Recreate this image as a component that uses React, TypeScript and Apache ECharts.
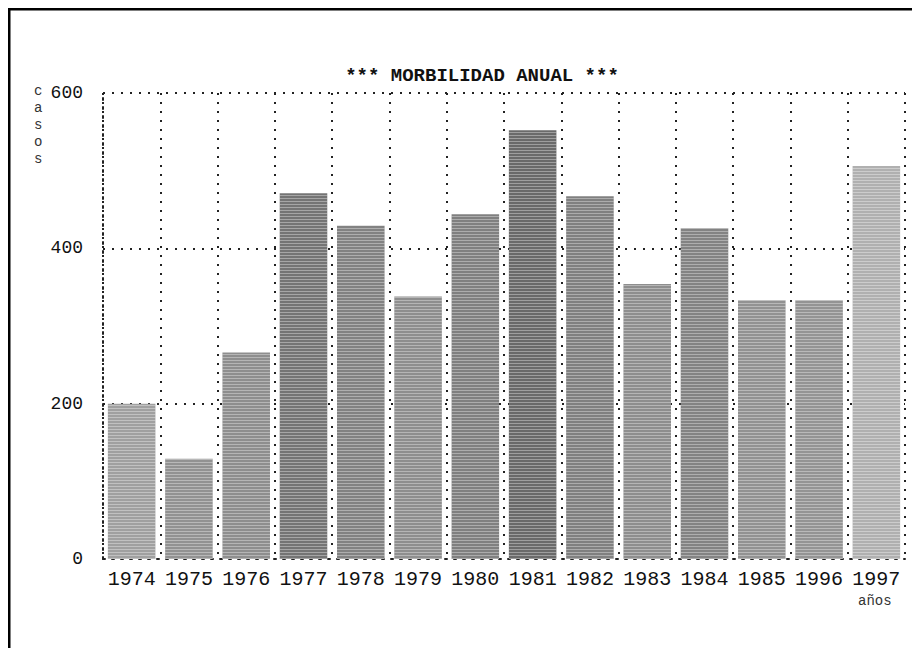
import React, { useEffect, useRef } from "react";
import * as echarts from "echarts";

const years = ["1974", "1975", "1976", "1977", "1978", "1979", "1980", "1981", "1982", "1983", "1984", "1985", "1996", "1997"];
const casos = [200, 129, 266, 471, 429, 338, 444, 552, 467, 354, 426, 333, 333, 506];
const shades = ["#a0a0a0", "#929292", "#8e8e8e", "#747474", "#828282", "#8e8e8e", "#808080", "#6a6a6a", "#808080", "#8e8e8e", "#838383", "#929292", "#949494", "#b0b0b0"];
const yTicks = [0, 200, 400, 600];

const MONO = "'Liberation Mono', 'DejaVu Sans Mono', monospace";

export default function App() {
  const ref = useRef<HTMLDivElement>(null);
  useEffect(() => {
    if (!ref.current) return;
    const chart = echarts.init(ref.current, null, { renderer: "svg" });
    const dotted = { color: "#222", width: 2, type: [2, 7] as number[] };
    chart.setOption({
      animation: false,
      backgroundColor: "#fff",
      title: {
        text: "*** MORBILIDAD ANUAL ***",
        left: 477,
        textAlign: "center",
        top: 61,
        textStyle: { fontFamily: MONO, fontSize: 19, fontWeight: "bold", color: "#111" },
      },
      grid: { left: 103, right: 15, top: 93, bottom: 97, containLabel: false },
      xAxis: {
        type: "category",
        data: years,
        boundaryGap: true,
        axisLine: { show: true, lineStyle: dotted },
        axisTick: { show: false },
        axisLabel: { fontFamily: MONO, fontSize: 20, color: "#111", margin: 10, interval: 0 },
        splitLine: { show: true, interval: 0, lineStyle: dotted },
      },
      yAxis: {
        type: "value",
        min: 0,
        max: 600,
        interval: 200,
        axisLine: { show: true, lineStyle: dotted },
        axisTick: { show: false },
        axisLabel: {
          fontFamily: MONO,
          fontSize: 18,
          color: "#111",
          margin: 20,
          formatter: (v: number) => (yTicks.includes(v) ? String(v) : ""),
        },
        splitLine: { show: true, lineStyle: dotted },
      },
      series: [
        {
          type: "bar",
          data: casos.map((v, i) => ({ value: v, itemStyle: { color: shades[i] } })),
          barCategoryGap: "17%",
          itemStyle: {
            decal: {
              symbol: "rect",
              symbolSize: 1,
              dashArrayX: [[1, 0]],
              dashArrayY: [1, 2],
              color: "rgba(255,255,255,0.35)",
            },
          },
        },
      ],
      graphic: [
        {
          type: "rect",
          shape: { x: 9, y: 9, width: 908, height: 700 },
          style: { fill: "none", stroke: "#000", lineWidth: 3 },
          silent: true,
        },
        {
          type: "text",
          left: 34,
          top: 82,
          style: {
            text: "c\na\ns\no\ns",
            fontFamily: MONO,
            fontSize: 14,
            lineHeight: 17,
            fill: "#333",
          },
        },
        {
          type: "text",
          left: 858,
          top: 594,
          style: { text: "años", fontFamily: MONO, fontSize: 14, fill: "#333" },
        },
      ],
    });
    return () => chart.dispose();
  }, []);
  return <div ref={ref} style={{ width: 920, height: 656, margin: -8 }} />;
}
